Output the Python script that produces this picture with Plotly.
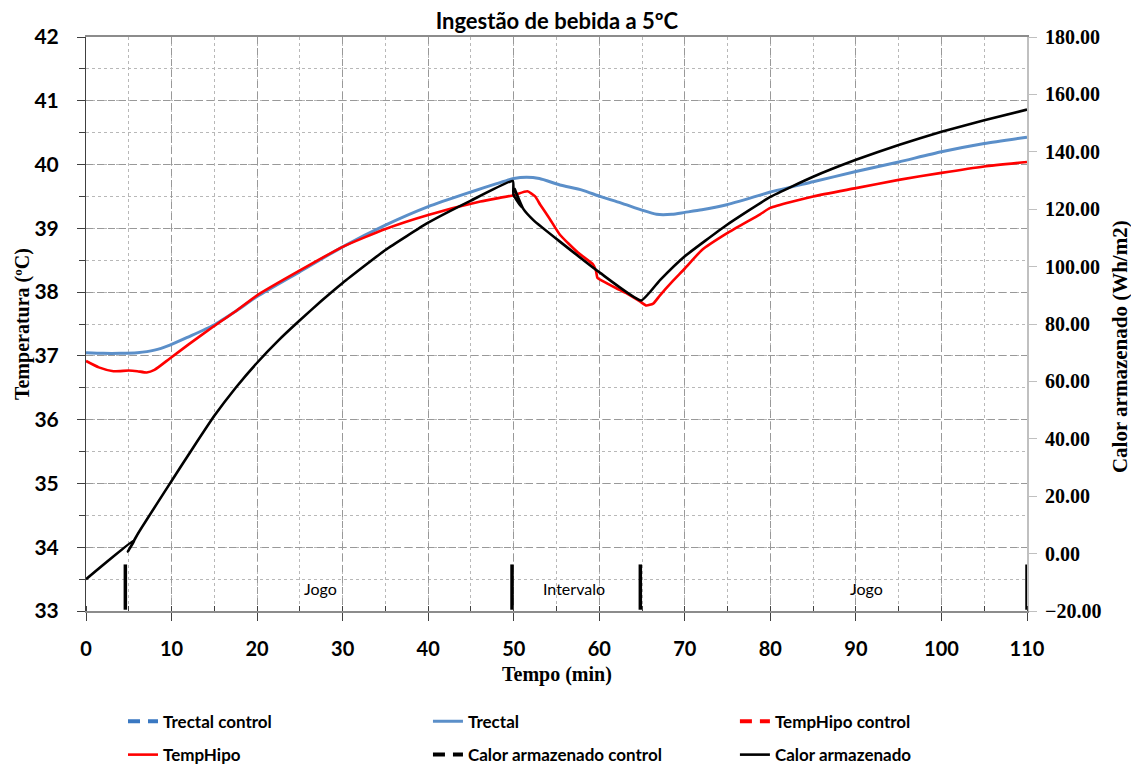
import plotly.graph_objects as go

# ---------------- data ----------------
trectal_t = [0, 2, 4, 6, 8, 9.8, 12, 14.9, 17.5, 20, 25, 30, 35, 40, 45, 48, 50, 51.5, 53, 55.4, 58,
             60.1, 62.5, 64.9, 66.7, 68.5, 70, 72, 74.9, 78.8, 80, 85, 90, 95, 100, 105, 110]
trectal = [37.05, 37.04, 37.04, 37.05, 37.09, 37.17, 37.30, 37.48, 37.70, 37.93, 38.32, 38.71, 39.05,
           39.34, 39.57, 39.70, 39.78, 39.80, 39.78, 39.68, 39.60, 39.50, 39.40, 39.29, 39.22, 39.22,
           39.25, 39.29, 39.37, 39.52, 39.57, 39.73, 39.89, 40.04, 40.20, 40.33, 40.43]

temphipo_t = [0, 1.5, 3.2, 5, 6, 7.1, 8, 9.8, 12, 14.9, 17.5, 20, 25, 30, 35, 40, 46.1, 50, 51.6, 52.5,
              53.1, 54.2, 55.4, 57.5, 59.3, 59.6, 59.8, 60.3, 62, 63.2, 64.8, 65.5, 66.3, 67.1, 68.5, 70,
              72, 74.9, 78.8, 80, 85, 90, 95, 100, 105, 110]
temphipo = [36.92, 36.82, 36.76, 36.77, 36.76, 36.74, 36.78, 36.96, 37.18, 37.46, 37.70, 37.95, 38.34,
            38.71, 38.99, 39.21, 39.42, 39.52, 39.58, 39.50, 39.37, 39.15, 38.90, 38.62, 38.43, 38.34,
            38.22, 38.18, 38.06, 37.98, 37.85, 37.79, 37.82, 37.95, 38.16, 38.37, 38.66, 38.92, 39.22,
            39.32, 39.50, 39.63, 39.76, 39.87, 39.97, 40.04]

calor_t = [0, 5.7, 4.9, 6.1, 10, 12.5, 15, 17.5, 20, 22.5, 25, 27.5, 30, 35, 40, 45, 49.9,
           49.97, 50.9, 50.1, 51.1, 52.3, 55.4, 60.1, 64.9, 67.1, 70, 74.9, 80, 85, 90, 95,
           100, 105, 110]
calor = [-8.9, 4.9, 0.7, 7.1, 25.3, 36.8, 48.0, 57.8, 66.5, 74.3, 81.3, 88.0, 94.3, 105.8, 115.3,
         123.0, 129.8, 125.1, 120.7, 127.1, 120.2, 116.2, 108.7, 97.8, 88.2, 95.3, 103.6, 114.5,
         124.3, 131.3, 137.2, 142.4, 147.0, 151.0, 154.7]

# control series are listed in the legend but no marks are visible
trectal_control_t, trectal_control = [None], [None]
temphipo_control_t, temphipo_control = [None], [None]
calor_control_t, calor_control = [None], [None]

# phase boundaries (vertical markers at the bottom) and labels
phase_x = [4.6, 49.8, 64.8, 110]
phase_y0, phase_y1 = 33.02, 33.73
phase_labels = ["Jogo", "Intervalo", "Jogo"]
phase_label_x = [27.4, 57.0, 91.2]
phase_label_y = 33.35

x_ticks = list(range(0, 111, 10))
temp_ticks = list(range(33, 43))
calor_ticks = list(range(-20, 181, 20))

# ---------------- figure ----------------
SANS = "Lato, 'Open Sans', sans-serif"
SERIF = "'Liberation Serif', 'DejaVu Serif', serif"
BLUE = "#5B8FC9"
BLUE_D = "#3A78C2"
RED = "#FF0000"
DASH = "12px,8px"

fig = go.Figure()

fig.add_trace(go.Scatter(x=trectal_control_t, y=trectal_control, mode="lines", name="Trectal control",
                         line=dict(color=BLUE_D, width=4, dash=DASH), legend="legend"))
fig.add_trace(go.Scatter(x=trectal_t, y=trectal, mode="lines", name="Trectal",
                         line=dict(color=BLUE, width=3, shape="spline", smoothing=0.6), legend="legend2"))
fig.add_trace(go.Scatter(x=temphipo_control_t, y=temphipo_control, mode="lines", name="TempHipo control",
                         line=dict(color=RED, width=4, dash=DASH), legend="legend3"))
fig.add_trace(go.Scatter(x=temphipo_t, y=temphipo, mode="lines", name="TempHipo",
                         line=dict(color=RED, width=2.6, shape="spline", smoothing=0.5), legend="legend4"))
fig.add_trace(go.Scatter(x=calor_control_t, y=calor_control, mode="lines", name="Calor armazenado control",
                         line=dict(color="black", width=4, dash=DASH), yaxis="y2", legend="legend5"))
fig.add_trace(go.Scatter(x=calor_t, y=calor, mode="lines", name="Calor armazenado",
                         line=dict(color="black", width=2.6, shape="spline", smoothing=0.4),
                         yaxis="y2", legend="legend6"))

# phase markers
mx, my = [], []
for px in phase_x:
    mx += [px, px, None]
    my += [phase_y0, phase_y1, None]
fig.add_trace(go.Scatter(x=mx, y=my, mode="lines", line=dict(color="black", width=3.5),
                         showlegend=False, hoverinfo="skip"))

for lab, lx in zip(phase_labels, phase_label_x):
    fig.add_annotation(x=lx, y=phase_label_y, xref="x", yref="y", text=lab, showarrow=False,
                       font=dict(family=SANS, size=16, color="black"))

# axis titles as annotations
fig.add_annotation(x=-0.068, y=0.5, xref="paper", yref="paper", text="<b>Temperatura (ºC)</b>",
                   textangle=-90, showarrow=False, xanchor="center", yanchor="middle",
                   font=dict(family=SERIF, size=20, color="black"))
fig.add_annotation(x=1.099, y=0.46, xref="paper", yref="paper", text="<b>Calor armazenado (Wh/m2)</b>",
                   textangle=-90, showarrow=False, xanchor="center", yanchor="middle",
                   font=dict(family=SERIF, size=21, color="black"))
fig.add_annotation(x=0.5, y=-0.111, xref="paper", yref="paper", text="<b>Tempo (min)</b>",
                   showarrow=False, xanchor="center", yanchor="middle",
                   font=dict(family=SERIF, size=20, color="black"))

legend_font = dict(family=SANS, size=17, color="black", weight="bold")
col_x = [0.0393, 0.3634, 0.6896]
row_y = [-0.193, -0.251]
legend_pos = {}
names = ["legend", "legend2", "legend3", "legend4", "legend5", "legend6"]
for i, nm in enumerate(names):
    legend_pos[nm] = dict(orientation="h", x=col_x[i % 3], xanchor="left", y=row_y[i // 3],
                          yanchor="middle", font=legend_font, bgcolor="rgba(0,0,0,0)")

fig.update_layout(
    width=1131, height=765,
    margin=dict(l=86, r=104, t=37, b=154, autoexpand=False),
    paper_bgcolor="white", plot_bgcolor="white",
    title=dict(text="<b>Ingestão de bebida a 5ºC</b>", x=0.4924, xanchor="center",
               y=0.972, yanchor="middle", font=dict(family=SANS, size=22, color="black")),
    xaxis=dict(range=[0, 110], tickvals=x_ticks, showgrid=True, gridcolor="#999999", griddash="7px,4px",
               gridwidth=1, showline=True, linecolor="#8C8C8C", linewidth=2, mirror=True,
               ticks="outside", ticklen=8, tickcolor="#404040", zeroline=False,
               ticklabelstandoff=11,
               tickfont=dict(family=SANS, size=20, color="black", weight="bold"),
               minor=dict(dtick=5, showgrid=True, gridcolor="#B8B8B8", griddash="dot", gridwidth=1,
                          ticks="inside", ticklen=5, tickcolor="#404040")),
    yaxis=dict(range=[33, 42], tickvals=temp_ticks, showgrid=True, gridcolor="#999999",
               griddash="7px,4px", gridwidth=1, showline=True, linecolor="#404040", linewidth=1,
               ticks="outside", ticklen=8, tickcolor="#404040", zeroline=False,
               ticklabelstandoff=14,
               tickfont=dict(family=SANS, size=21, color="black", weight="bold"),
               minor=dict(dtick=0.5, showgrid=True, gridcolor="#B8B8B8", griddash="dot", gridwidth=1,
                          ticks="outside", ticklen=6, tickcolor="#404040")),
    yaxis2=dict(range=[-20, 180], tickvals=calor_ticks, tickformat=".2f", overlaying="y", side="right",
                showgrid=False, showline=True, linecolor="#C0C0C0", linewidth=2, zeroline=False,
                ticks="outside", ticklen=8, tickcolor="#C0C0C0", ticklabelstandoff=4,
                tickfont=dict(family=SERIF, size=20, color="black", weight="bold")),
    **legend_pos,
)

fig.write_html("out.html")
